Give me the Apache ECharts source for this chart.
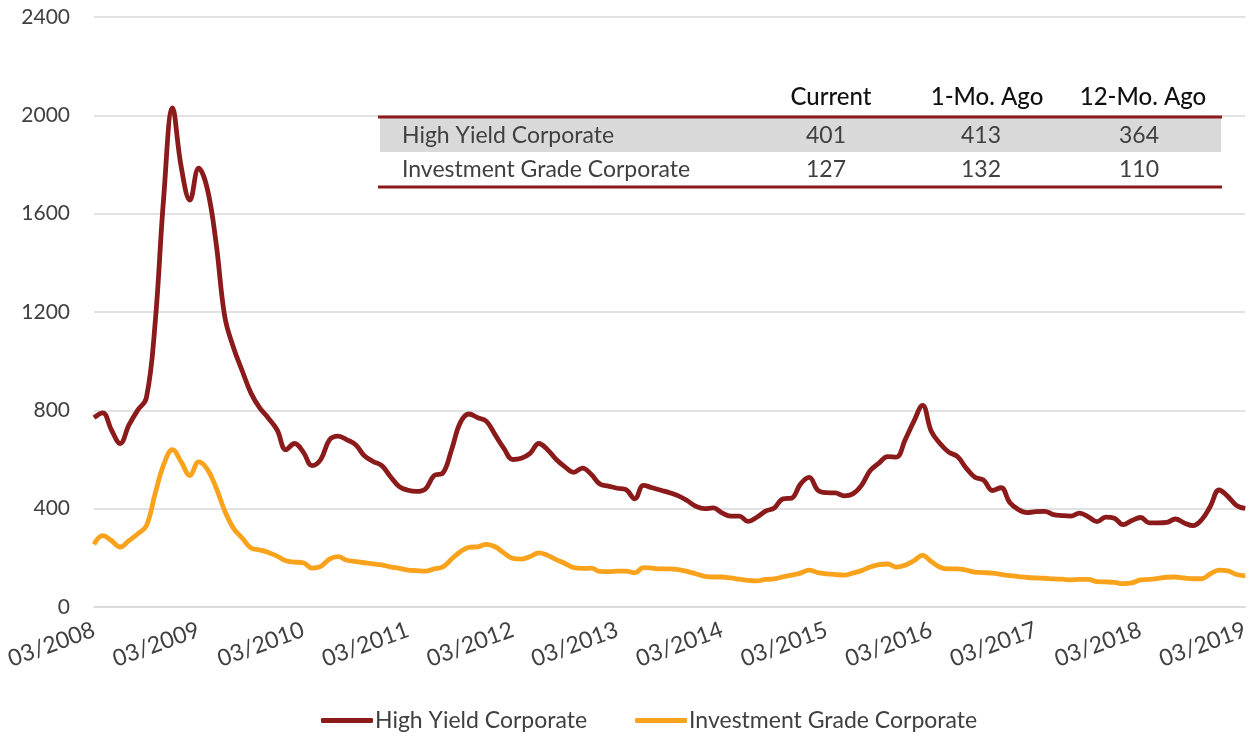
<!DOCTYPE html>
<html>
<head>
<meta charset="utf-8">
<title>Corporate Spreads</title>
<script src="https://cdn.jsdelivr.net/npm/echarts@6/dist/echarts.min.js"></script>
<style>
  html, body { margin: 0; padding: 0; background: #fff; }
  #chart { width: 1252px; height: 738px; }
</style>
</head>
<body>
<div id="chart"></div>
<script>
// monthly, 03/2008 .. 03/2019 (bps)
const highYield = [
  770, 790, 720, 665, 740, 800, 850, 1150, 1670, 2030, 1790, 1655,
  1785, 1700, 1480, 1180, 1055, 960, 870, 810, 768, 720, 640, 665,
  630, 575, 600, 680, 695, 680, 660, 615, 592, 575, 530, 490,
  475, 470, 480, 535, 545, 640, 750, 785, 770, 755, 700, 645,
  600, 605, 625, 665, 640, 600, 570, 548, 565, 540, 500, 492,
  483, 477, 440, 495, 485, 475, 465, 452, 433, 410, 400, 403,
  383, 370, 370, 348, 365, 390, 403, 440, 443, 500, 527, 475,
  465, 464, 452, 460, 495, 555, 585, 612, 610, 680, 755, 820,
  715, 665, 630, 612, 565, 528, 516, 474, 485, 425, 396, 384,
  388, 389, 376, 372, 370, 382, 367, 347, 366, 361, 335, 352,
  364, 342, 342, 344, 358, 342, 331, 355, 410, 476, 450, 413,
  401
]
const investGrade = [
  255, 290, 270, 244, 270, 297, 330, 460, 580, 640, 590, 535,
  590, 560, 485, 390, 320, 280, 240, 232, 222, 207, 188, 183,
  180, 158, 165, 195, 205, 190, 185, 180, 175, 171, 163, 157,
  150, 148, 146, 155, 163, 195, 225, 243, 245, 255, 245, 220,
  198, 195, 205, 220, 210, 193, 177, 160, 157, 158, 145, 144,
  146, 146, 139, 160, 158, 155, 155, 152, 145, 135, 125, 122,
  122, 118, 113, 108, 106, 112, 114, 123, 130, 138, 150, 140,
  135, 132, 130, 138, 148, 163, 172, 175, 162, 170, 188, 210,
  185, 162, 155, 155, 150, 142, 140, 138, 133, 128, 124, 120,
  118, 117, 114, 113, 110, 112, 112, 103, 102, 100, 95, 98,
  110, 112, 116, 121, 122, 118, 115, 115, 135, 150, 147, 132,
  127
]
const seriesNames = ['High Yield Corporate', 'Investment Grade Corporate']

// table overlay
const tableHeader = ['Current', '1-Mo. Ago', '12-Mo. Ago']
const tableHY = [401, 413, 364]
const tableIG = [127, 132, 110]

const months = []
for (let i = 0; i < highYield.length; i++) {
  const m = (2 + i) % 12 + 1
  const y = 2008 + Math.floor((2 + i) / 12)
  months.push((m < 10 ? '0' + m : '' + m) + '/' + y)
}

const font = 'Lato, "Open Sans", sans-serif'
const red = '#8B1A1A'
const orange = '#F9A21B'
const textColor = '#404040'

const colX = [831, 987, 1143]
const valX = [826, 981, 1139]

const graphics = []
tableHeader.forEach((h, k) => {
  graphics.push({
    type: 'text', z: 3,
    style: { x: colX[k], y: 97, text: h, font: '500 24px ' + font, fill: '#111', textAlign: 'center', textVerticalAlign: 'middle' }
  })
})
graphics.push({ type: 'rect', shape: { x: 380, y: 118, width: 841, height: 34 }, style: { fill: '#D9D9D9' }, z: 1 })
graphics.push({ type: 'line', shape: { x1: 378, y1: 117, x2: 1222, y2: 117 }, style: { stroke: red, lineWidth: 3 }, z: 2 })
graphics.push({ type: 'line', shape: { x1: 378, y1: 187, x2: 1222, y2: 187 }, style: { stroke: red, lineWidth: 3 }, z: 2 })
;[[seriesNames[0], tableHY, 135], [seriesNames[1], tableIG, 169]].forEach(([name, vals, y]) => {
  graphics.push({
    type: 'text', z: 3,
    style: { x: 402, y: y + 1, text: name, font: '23px ' + font, fill: textColor, textVerticalAlign: 'middle' }
  })
  vals.forEach((v, k) => {
    graphics.push({
      type: 'text', z: 3,
      style: { x: valX[k], y: y + 1, text: String(v), font: '23px ' + font, fill: textColor, textAlign: 'center', textVerticalAlign: 'middle' }
    })
  })
})

const chart = echarts.init(document.getElementById('chart'))
chart.setOption({
  animation: false,
  grid: { left: 94, right: 2, top: 17, bottom: 131, containLabel: false },
  legend: {
    bottom: 1, left: 316,
    icon: 'roundRect', itemWidth: 52, itemHeight: 5, itemGap: 48,
    textStyle: { fontFamily: font, fontSize: 23, color: textColor, padding: [0, 0, 0, -3] },
    data: seriesNames
  },
  xAxis: {
    type: 'category', boundaryGap: false, data: months,
    axisLine: { lineStyle: { color: '#D9D9D9', width: 1.5 } },
    axisTick: { show: false },
    axisLabel: { interval: 11, rotate: 20, margin: 22, fontFamily: font, fontSize: 23, color: textColor }
  },
  yAxis: {
    type: 'value', min: 0, max: 2400, interval: 400,
    axisLine: { show: false }, axisTick: { show: false },
    splitLine: { lineStyle: { color: '#D9D9D9', width: 1.5 } },
    axisLabel: { margin: 24, fontFamily: font, fontSize: 21, color: textColor, formatter: v => String(v) }
  },
  series: [
    { name: seriesNames[0], type: 'line', data: highYield, smooth: 0.4, showSymbol: false,
      lineStyle: { color: red, width: 4.8 }, itemStyle: { color: red } },
    { name: seriesNames[1], type: 'line', data: investGrade, smooth: 0.4, showSymbol: false,
      lineStyle: { color: orange, width: 4.8 }, itemStyle: { color: orange } }
  ],
  graphic: graphics
})
</script>
</body>
</html>
